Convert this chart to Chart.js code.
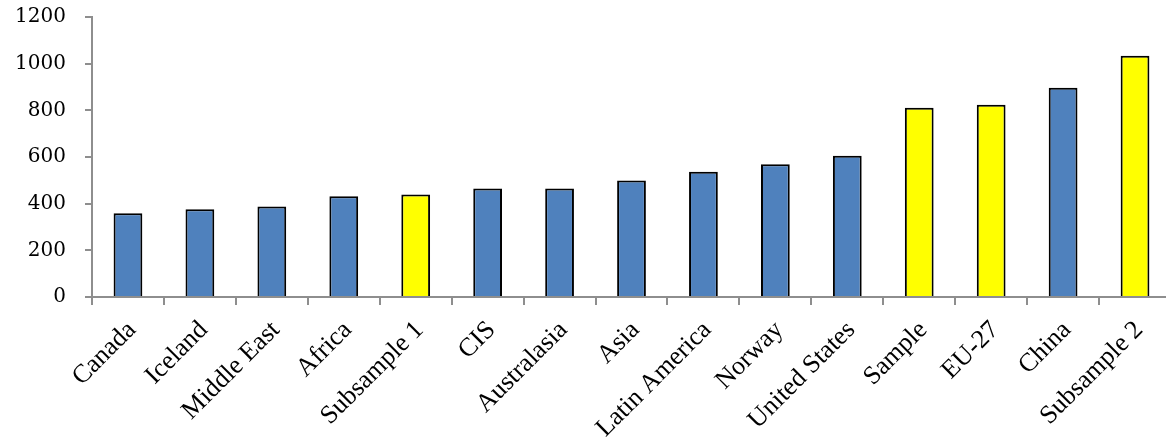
<!DOCTYPE html>
<html>
<head>
<meta charset="utf-8">
<script src="https://cdn.jsdelivr.net/npm/chart.js@4"></script>
<style>
  html, body { margin: 0; padding: 0; background: #fff; overflow: hidden; }
</style>
</head>
<body>
<canvas id="barChart" width="1171" height="447"></canvas>
<script>
const regions = ['Canada', 'Iceland', 'Middle East', 'Africa', 'Subsample 1', 'CIS', 'Australasia',
  'Asia', 'Latin America', 'Norway', 'United States', 'Sample', 'EU-27', 'China', 'Subsample 2'];
const values = [359, 376, 388, 432, 439, 465, 465, 499, 537, 569, 605, 811, 824, 897, 1034];
// aggregate groups are shown in yellow
const sampleGroups = ['Subsample 1', 'Sample', 'EU-27', 'Subsample 2'];
const yMin = 0;
const yMax = 1200;
const yStep = 200;

const axisGrey = '#8e8e8e';
const barColors = regions.map(r => sampleGroups.includes(r) ? '#ffff00' : '#4f81bd');

let ctx = document.getElementById('barChart').getContext('2d');
let myBarChart = new Chart(ctx, {
  type: 'bar',
  data: {
    labels: regions,
    datasets: [{
      data: values,
      backgroundColor: barColors,
      borderColor: '#000000',
      borderWidth: 2,
      barPercentage: 0.4,
      categoryPercentage: 1
    }]
  },
  options: {
    responsive: false,
    devicePixelRatio: 1,
    animation: false,
    layout: { padding: { top: 17, left: 0, right: 0, bottom: 0 } },
    plugins: {
      legend: { display: false },
      tooltip: { enabled: false }
    },
    scales: {
      x: {
        offset: true,
        grid: {
          offset: true,
          drawOnChartArea: false,
          drawTicks: true,
          tickLength: 8,
          color: axisGrey,
          lineWidth: 2
        },
        border: { color: axisGrey, width: 2 },
        ticks: {
          autoSkip: false,
          maxRotation: 45,
          minRotation: 45,
          padding: 10,
          labelOffset: 4,
          color: '#000',
          font: { family: 'Liberation Serif', size: 26 }
        },
        afterFit: (scale) => { scale.height = 150; }
      },
      y: {
        min: yMin,
        max: yMax,
        ticks: {
          stepSize: yStep,
          padding: 19,
          color: '#000',
          font: { family: 'DejaVu Serif', size: 20 },
          callback: (v) => String(v)
        },
        grid: {
          drawOnChartArea: false,
          drawTicks: true,
          tickLength: 7,
          color: axisGrey,
          lineWidth: 2
        },
        border: { color: axisGrey, width: 2 },
        afterFit: (scale) => {
          scale.width = 92;
          // tick padding would otherwise push the plot top down
          scale.paddingTop = 0;
          scale.paddingBottom = 0;
        }
      }
    }
  }
});
</script>
</body>
</html>
